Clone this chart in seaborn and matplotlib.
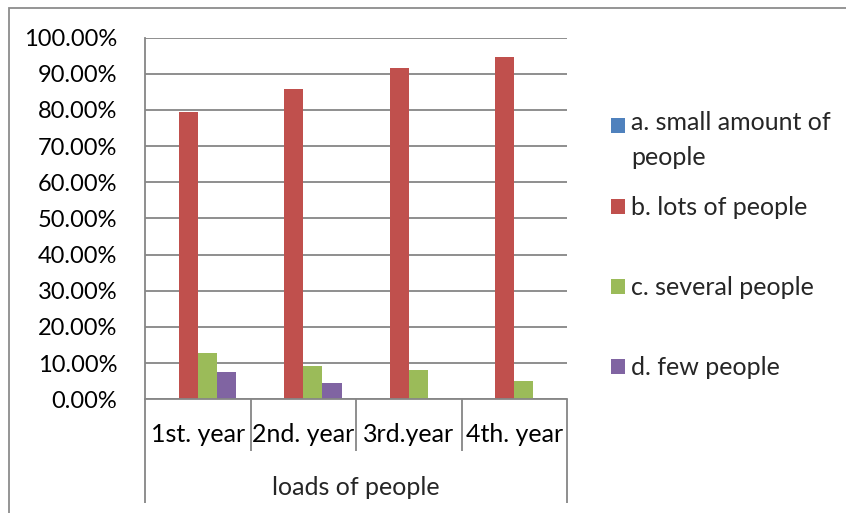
import numpy as np
import pandas as pd
import matplotlib
matplotlib.use("Agg")
import matplotlib.pyplot as plt
import matplotlib.transforms as mtransforms
from matplotlib.patches import Rectangle
from matplotlib.ticker import PercentFormatter, MultipleLocator
import seaborn as sns

# ---- data -------------------------------------------------------------
years = ["1st. year", "2nd. year", "3rd.year", "4th. year"]
group_label = "loads of people"
responses = ["a. small amount of\npeople", "b. lots of people",
             "c. several people", "d. few people"]
small_amount = [0.0, 0.0, 0.0, 0.0]
lots = [0.794, 0.857, 0.915, 0.947]
several = [0.127, 0.093, 0.081, 0.051]
few = [0.076, 0.046, 0.0, 0.0]
colors = ["#4F81BD", "#C0504D", "#9BBB59", "#8064A2"]

series = [small_amount, lots, several, few]
df = pd.DataFrame({
    "year": [y for s in series for y in years],
    "response": [r for r, s in zip(responses, series) for _ in s],
    "share": [v for s in series for v in s],
})

# ---- style ------------------------------------------------------------
sns.set_style("white")
plt.rcParams["font.family"] = ["Lato", "DejaVu Sans"]
grid_c = "#868686"
FS = 18      # category and legend text
FS_Y = 17    # percentage tick labels

W, H = 846, 513
fig = plt.figure(figsize=(W / 100, H / 100), dpi=100)
left, right, top, bottom = 145, 567, 37.6, 399.3
ax = fig.add_axes([left / W, 1 - bottom / H, (right - left) / W, (bottom - top) / H])

sns.barplot(data=df, x="year", y="share", hue="response", order=years,
            hue_order=responses, palette=colors, width=4 / 5.5,
            saturation=1, linewidth=0, legend=False, ax=ax)

ax.set_xlim(-0.5, len(years) - 0.5)
ax.set_ylim(0, 1.0)
ax.yaxis.set_major_locator(MultipleLocator(0.1))
ax.yaxis.set_major_formatter(PercentFormatter(xmax=1.0, decimals=2))
ax.yaxis.grid(True, color=grid_c, lw=1.3)
ax.set_axisbelow(True)
ax.set_xlabel("")
ax.set_ylabel("")

for s in ["top", "right"]:
    ax.spines[s].set_visible(False)
for s in ["left", "bottom"]:
    ax.spines[s].set_color(grid_c)
    ax.spines[s].set_linewidth(1.3)

ax.tick_params(axis="y", length=6, width=1.3, color=grid_c, pad=14,
               labelsize=FS_Y, labelcolor="black")
ax.tick_params(axis="x", length=0, pad=17, labelsize=FS, labelcolor="black")

# multi-level category axis: separators and group label
trans = mtransforms.blended_transform_factory(ax.transData, ax.transAxes)
bounds = np.arange(len(years) + 1) - 0.5
for i, b in enumerate(bounds):
    outer = i == 0 or i == len(bounds) - 1
    y_end = -0.287 if outer else -0.144
    ax.plot([b, b], [0, y_end], transform=trans, color=grid_c, lw=1.3,
            clip_on=False, solid_capstyle="butt")
ax.text(0.5, -0.243, group_label, transform=ax.transAxes, ha="center",
        va="center", fontsize=FS)


# legend drawn at the right of the plot area (pixel helpers)
def fx(px):
    return px / W


def fy(py):
    return 1 - py / H


sq = 14.5
entry_y = [125.5, 206.5, 286.5, 366.7]
for lab, col, yc in zip(responses, colors, entry_y):
    fig.add_artist(Rectangle((fx(610.5), fy(yc + sq / 2)), sq / W, sq / H,
                             facecolor=col, edgecolor="none",
                             transform=fig.transFigure))
    if "\n" in lab:
        fig.text(fx(631), fy(yc - 14), lab, ha="left", va="top", fontsize=FS,
                 linespacing=1.6)
    else:
        fig.text(fx(631), fy(yc + 1), lab, ha="left", va="center", fontsize=FS)

# chart-area border
fig.add_artist(Rectangle((fx(9), -0.1), 1.2, fy(8) + 0.1, facecolor="none",
                         edgecolor="#8c8c8c", lw=1.3, transform=fig.transFigure))

fig.savefig("out.png", dpi=100)
